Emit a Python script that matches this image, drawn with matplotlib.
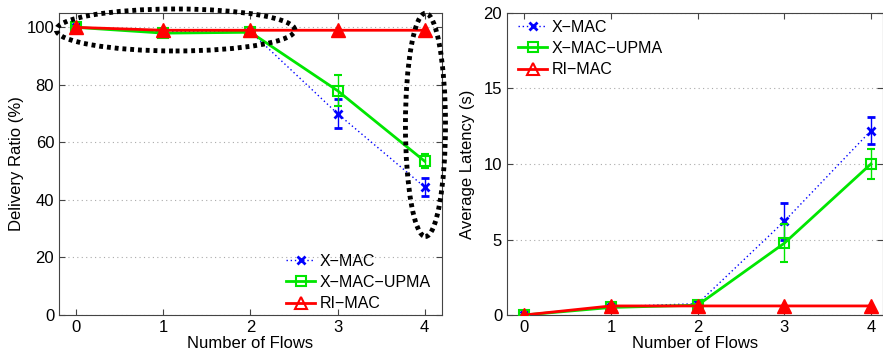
import matplotlib
matplotlib.use("Agg")
import matplotlib.pyplot as plt
from matplotlib.patches import Ellipse
from matplotlib.lines import Line2D

plt.rcParams['font.family'] = ['Liberation Sans', 'DejaVu Sans']

flows = [0, 1, 2, 3, 4]

# Delivery ratio (%)
dr_xmac = [100, 98.5, 98.5, 70, 44.5]
dr_xmac_err = [0.5, 0.5, 0.5, 5.0, 3.0]
dr_upma = [100, 98, 98.3, 78, 53.5]
dr_upma_err = [0.5, 0.5, 0.5, 5.5, 2.5]
dr_rimac = [100, 99, 99, 99, 99]

# Average latency (s)
lat_xmac = [0, 0.55, 0.75, 6.2, 12.2]
lat_xmac_err = [0.02, 0.05, 0.1, 1.2, 0.9]
lat_upma = [0, 0.5, 0.65, 4.75, 10.0]
lat_upma_err = [0.02, 0.05, 0.1, 1.25, 1.0]
lat_rimac = [0, 0.6, 0.6, 0.6, 0.6]

labels = ['X\u2212MAC', 'X\u2212MAC\u2212UPMA', 'RI\u2212MAC']

W, H = 883, 352
fig = plt.figure(figsize=(W / 100, H / 100), dpi=100)
ax1 = fig.add_axes([59 / W, 1 - 315 / H, (442 - 59) / W, (315 - 13) / H])
ax2 = fig.add_axes([507 / W, 1 - 315 / H, (883 - 507) / W, (315 - 13) / H])

blue = '#0000ff'
green = '#00e600'
red = '#ff0000'


def draw(ax, xm, xme, up, upe, ri):
    ax.errorbar(flows, xm, yerr=xme, color=blue, linestyle=(0, (1, 2)), lw=1,
                marker='x', ms=6, mew=2, capsize=3, elinewidth=1, zorder=3)
    ax.errorbar(flows, up, yerr=upe, color=green, linestyle='-', lw=2,
                marker='s', ms=7, mfc='none', mew=1.5, capsize=3, elinewidth=1, zorder=4)
    ax.plot(flows, ri, color=red, lw=2, marker='^', ms=10, mfc=red, mec=red, zorder=5)
    ax.set_xlim(-0.2, 4.2)
    ax.set_xticks(flows)
    ax.set_xlabel('Number of Flows', fontsize=12, labelpad=1)
    ax.tick_params(direction='in', top=True, right=True, labelsize=12, length=4,
                   color='#444444')
    ax.grid(axis='y', linestyle=(0, (1, 3)), color='#aaaaaa', lw=0.8)
    for s in ax.spines.values():
        s.set_color('#444444')


draw(ax1, dr_xmac, dr_xmac_err, dr_upma, dr_upma_err, dr_rimac)
draw(ax2, lat_xmac, lat_xmac_err, lat_upma, lat_upma_err, lat_rimac)

ax1.set_ylim(0, 105)
ax1.set_yticks([0, 20, 40, 60, 80, 100])
ax1.set_ylabel('Delivery Ratio (%)', fontsize=12, labelpad=2)
ax2.set_xlim(-0.2, 4.14)
ax2.set_ylim(0, 20)
ax2.set_yticks([0, 5, 10, 15, 20])
ax2.set_ylabel('Average Latency (s)', fontsize=12, labelpad=6)

handles = [
    Line2D([], [], color=blue, linestyle=(0, (1, 2)), lw=1, marker='x', ms=6, mew=2),
    Line2D([], [], color=green, lw=2, marker='s', ms=7, mfc='none', mew=1.5),
    Line2D([], [], color=red, lw=2, marker='^', ms=9, mfc='none', mew=1.5),
]
ax1.legend(handles, labels, loc='lower right', frameon=False, fontsize=11.5,
           handlelength=1.8, handletextpad=0.3, labelspacing=0.4,
           borderaxespad=0.3, bbox_to_anchor=(1.0, -0.025))
ax2.legend(handles, labels, loc='upper left', frameon=False, fontsize=11.5,
           handlelength=1.8, handletextpad=0.3, labelspacing=0.4,
           borderaxespad=0.3, bbox_to_anchor=(0.0, 1.015))

dot = (0, (0.8, 0.8))
e1 = Ellipse((1.14, 99.1), 2.74, 14.6, fill=False, edgecolor='black', lw=3.5,
             linestyle=dot, clip_on=False, zorder=6)
e2 = Ellipse((4.01, 66.1), 0.46, 77.6, fill=False, edgecolor='black', lw=3.5,
             linestyle=dot, clip_on=False, zorder=6)
ax1.add_patch(e1)
ax1.add_patch(e2)

fig.savefig('out.png', dpi=100)
